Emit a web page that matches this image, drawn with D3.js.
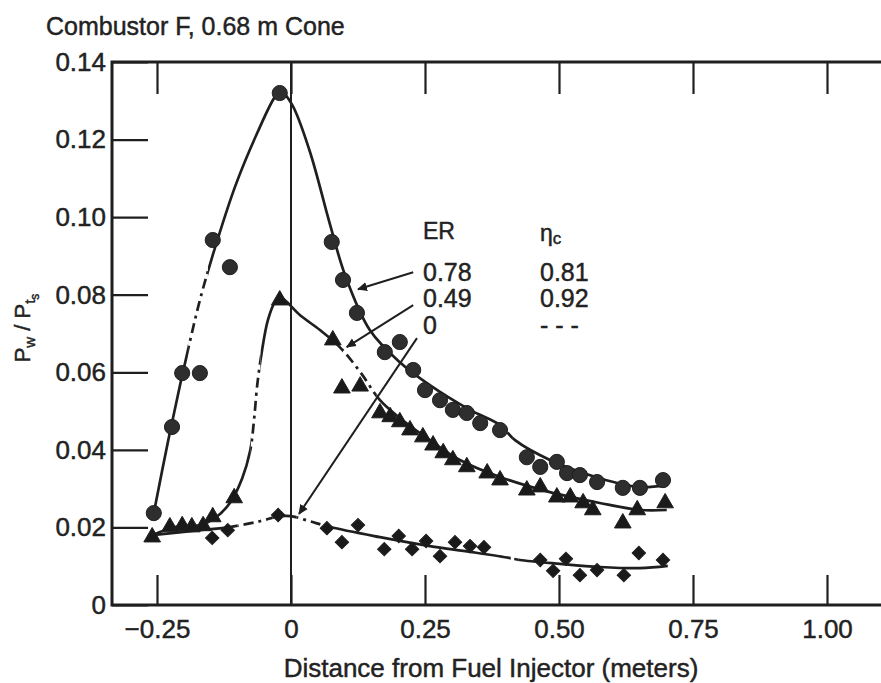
<!DOCTYPE html>
<html>
<head>
<meta charset="utf-8">
<script src="https://cdn.jsdelivr.net/npm/d3@7"></script>
<style>
body { margin: 0; background: #fff; }
text { font-family: 'Liberation Sans', Arial, sans-serif; fill: #222; stroke: #222; stroke-width: 0.45px; }
</style>
</head>
<body>
<svg id="chart"></svg>
<script>
// values
// x = distance from fuel injector (m), y = Pw/Pts

// ER 0.78 (circles)
var er78Points = [[-0.256,0.0237],[-0.222,0.0459],[-0.203,0.0598],[-0.170,0.0598],[-0.146,0.0941],
	[-0.114,0.0871],[-0.021,0.132],[0.076,0.0936],[0.097,0.0838],[0.123,0.0753],[0.175,0.0652],
	[0.203,0.0678],[0.228,0.0606],[0.250,0.0554],[0.278,0.0528],[0.302,0.0503],[0.328,0.0495],
	[0.353,0.0469],[0.390,0.0451],[0.440,0.0381],[0.465,0.0356],[0.496,0.0369],[0.515,0.0340],
	[0.539,0.0335],[0.571,0.0317],[0.619,0.0302],[0.651,0.0302],[0.694,0.0322]];
var er78Curve = [[-0.256,0.0237],[-0.229,0.0425],[-0.207,0.0567],[-0.188,0.0683],[-0.170,0.0786],
	[-0.146,0.0902],[-0.104,0.108],[-0.062,0.122],[-0.030,0.131],[-0.019,0.1325],[0.002,0.129],
	[0.035,0.117],[0.073,0.098],[0.101,0.085],[0.147,0.0709],[0.203,0.0626],[0.259,0.0567],
	[0.334,0.0503],[0.390,0.0464],[0.418,0.0425],[0.483,0.0374],[0.576,0.0327],[0.651,0.0304],[0.698,0.0309]];
var er78Breaks = [[-0.192,-0.155],[0.392,0.414]];

// ER 0.49 (triangles)
var er49Points = [[-0.259,0.0175],[-0.226,0.0201],[-0.203,0.0204],[-0.185,0.0201],[-0.164,0.0204],
	[-0.146,0.0227],[-0.106,0.0276],[-0.021,0.0786],[0.078,0.0683],[0.095,0.0559],[0.129,0.0564],
	[0.166,0.0495],[0.185,0.0485],[0.203,0.0472],[0.222,0.0451],[0.246,0.0433],[0.265,0.0412],
	[0.284,0.0392],[0.302,0.0374],[0.328,0.0356],[0.366,0.0340],[0.390,0.0322],[0.440,0.0296],
	[0.465,0.0304],[0.496,0.0278],[0.521,0.0278],[0.545,0.0263],[0.563,0.0245],[0.619,0.0211],
	[0.646,0.0245],[0.698,0.0263]];
var er49Curve = [[-0.259,0.018],[-0.216,0.0201],[-0.170,0.0206],[-0.142,0.0224],[-0.114,0.0263],
	[-0.091,0.0327],[-0.076,0.0399],[-0.069,0.0477],[-0.063,0.0567],[-0.054,0.0657],[-0.043,0.0735],
	[-0.030,0.0781],[-0.021,0.0794],[0.017,0.0747],[0.054,0.0709],[0.091,0.0665],[0.129,0.0601],
	[0.166,0.0528],[0.203,0.0482],[0.259,0.0425],[0.315,0.0374],[0.390,0.0330],[0.483,0.0291],
	[0.576,0.0263],[0.651,0.0245],[0.701,0.0245]];
var er49Breaks = [[-0.075,-0.057],[0.097,0.160]];

// ER 0 (diamonds)
var er0Points = [[-0.147,0.0173],[-0.118,0.0193],[-0.024,0.0232],[0.067,0.0198],[0.095,0.0162],
	[0.125,0.0206],[0.174,0.0144],[0.201,0.0178],[0.226,0.0144],[0.252,0.0165],[0.278,0.0126],
	[0.306,0.0162],[0.334,0.0152],[0.360,0.0149],[0.465,0.0116],[0.489,0.0088],[0.513,0.0119],
	[0.539,0.0077],[0.571,0.0090],[0.621,0.0077],[0.649,0.0134],[0.694,0.0116]];
var er0Curve = [[-0.259,0.018],[-0.170,0.0193],[-0.114,0.0201],[-0.058,0.0216],[-0.021,0.0229],
	[0.000,0.0229],[0.035,0.0216],[0.073,0.0201],[0.166,0.0175],[0.259,0.0152],[0.334,0.0137],
	[0.409,0.0121],[0.427,0.0116],[0.502,0.0106],[0.576,0.0098],[0.651,0.0095],[0.703,0.0101]];
var er0Breaks = [[-0.100,-0.035],[0.010,0.062],[0.410,0.425]];

// legend
var erLabels = ["0.78", "0.49", "0"];
var etaLabels = ["0.81", "0.92", "- - -"];

// axes
var xTicks = [-0.25, 0, 0.25, 0.5, 0.75, 1.0];
var xTickLabels = ["\u22120.25", "0", "0.25", "0.50", "0.75", "1.00"];
var yTicks = [0, 0.02, 0.04, 0.06, 0.08, 0.10, 0.12, 0.14];
var yTickLabels = ["0", "0.02", "0.04", "0.06", "0.08", "0.10", "0.12", "0.14"];

var width = 881;
var height = 683;
var frameLeft = 112;
var ink = "#1f1f1f";

var svg = d3.select("#chart")
	.attr("width", width)
	.attr("height", height);

var x = d3.scaleLinear().domain([0, 1]).range([291, 827]);
var y = d3.scaleLinear().domain([0, 0.14]).range([605, 62]);

// title
svg.append("text")
	.attr("x", 46)
	.attr("y", 35)
	.attr("font-size", 25)
	.text("Combustor F, 0.68 m Cone");

// axes, ticks pointing inward
var yAxis = d3.axisLeft(y)
	.tickValues(yTicks)
	.tickFormat(function(d, i) { return yTickLabels[i]; })
	.tickSize(-36)
	.tickPadding(6);
var gy = svg.append("g")
	.attr("transform", "translate(" + frameLeft + ",0)")
	.call(yAxis);

var xAxis = d3.axisBottom(x)
	.tickValues(xTicks)
	.tickFormat(function(d, i) { return xTickLabels[i]; })
	.tickSize(-30)
	.tickPadding(15);
var gx = svg.append("g")
	.attr("transform", "translate(0," + y(0) + ")")
	.call(xAxis);

var gTop = svg.append("g")
	.attr("transform", "translate(0," + y(0.14) + ")")
	.call(d3.axisTop(x).tickValues(xTicks).tickFormat("").tickSize(-32));

[gx, gy, gTop].forEach(function(g) {
	g.select(".domain").remove();
	g.selectAll(".tick line").attr("stroke", ink).attr("stroke-width", 2.2);
	g.selectAll(".tick text")
		.attr("font-size", 26)
		.style("font-family", "'Liberation Sans', Arial, sans-serif")
		.attr("fill", "#222");
});

// frame
svg.append("path")
	.attr("fill", "none")
	.attr("stroke", ink)
	.attr("stroke-width", 3)
	.attr("d", "M" + width + "," + y(0.14) + "H" + frameLeft + "V" + y(0) + "H" + width);

// full-height line at the injector
svg.append("line")
	.attr("x1", x(0)).attr("x2", x(0))
	.attr("y1", y(0.14)).attr("y2", y(0))
	.attr("stroke", ink)
	.attr("stroke-width", 2);

// axis titles
svg.append("text")
	.attr("x", 491)
	.attr("y", 677)
	.attr("text-anchor", "middle")
	.attr("font-size", 26)
	.text("Distance from Fuel Injector (meters)");

var ylab = svg.append("text")
	.attr("transform", "translate(30,328) rotate(-90)")
	.attr("text-anchor", "middle")
	.attr("font-size", 22);
ylab.append("tspan").text("P");
ylab.append("tspan").attr("font-size", 15).attr("dy", 5).text("w");
ylab.append("tspan").attr("dy", -5).text(" / P");
ylab.append("tspan").attr("font-size", 15).attr("dy", 5).text("t");
ylab.append("tspan").attr("font-size", 12).attr("dy", 4).text("s");

// fitted curves: solid, with dash-dot where the line is broken
var line = d3.line()
	.x(function(d) { return x(d[0]); })
	.y(function(d) { return y(d[1]); })
	.curve(d3.curveCatmullRom.alpha(0.5));

var defs = svg.append("defs");

function drawCurve(name, curve, breaks) {
	var keep = [];
	var start = 0;
	breaks.forEach(function(b) {
		keep.push([start, x(b[0])]);
		start = x(b[1]);
	});
	keep.push([start, width]);

	var solidClip = defs.append("clipPath").attr("id", name + "-solid");
	keep.forEach(function(k) {
		solidClip.append("rect").attr("x", k[0]).attr("y", 0).attr("width", k[1] - k[0]).attr("height", height);
	});
	var dashClip = defs.append("clipPath").attr("id", name + "-dash");
	breaks.forEach(function(b) {
		dashClip.append("rect").attr("x", x(b[0])).attr("y", 0).attr("width", x(b[1]) - x(b[0])).attr("height", height);
	});

	svg.append("path")
		.attr("d", line(curve))
		.attr("fill", "none")
		.attr("stroke", ink)
		.attr("stroke-width", 2.7)
		.attr("clip-path", "url(#" + name + "-solid)");
	svg.append("path")
		.attr("d", line(curve))
		.attr("fill", "none")
		.attr("stroke", ink)
		.attr("stroke-width", 2.7)
		.attr("stroke-dasharray", "10,5,3,5")
		.attr("clip-path", "url(#" + name + "-dash)");
}

drawCurve("er78", er78Curve, er78Breaks);
drawCurve("er49", er49Curve, er49Breaks);
drawCurve("er0", er0Curve, er0Breaks);

// markers
function drawPoints(points, type, size, rotate, fill) {
	var sym = d3.symbol().type(type).size(size);
	svg.append("g").selectAll("path")
		.data(points)
		.enter()
		.append("path")
		.attr("d", sym)
		.attr("fill", fill)
		.attr("stroke", ink)
		.attr("stroke-width", 1)
		.attr("transform", function(d) {
			return "translate(" + x(d[0]) + "," + y(d[1]) + ") rotate(" + rotate + ")";
		});
}

drawPoints(er0Points, d3.symbolSquare, 90, 45, "#1a1a1a");
drawPoints(er49Points, d3.symbolTriangle, 120, 0, "#1a1a1a");
drawPoints(er78Points, d3.symbolCircle, 180, 0, "#2e2e2e");

// legend and leader arrows
defs.append("marker")
	.attr("id", "head")
	.attr("viewBox", "0 0 10 10")
	.attr("refX", 9)
	.attr("refY", 5)
	.attr("markerWidth", 5)
	.attr("markerHeight", 5)
	.attr("orient", "auto")
	.append("path")
	.attr("d", "M0,0.5L10,5L0,9.5Z")
	.attr("fill", ink);

var arrows = [
	[[0.228, 0.0858], [0.125, 0.0814]],
	[[0.228, 0.0773], [0.104, 0.0665]],
	[[0.235, 0.0688], [0.015, 0.0235]]
];
arrows.forEach(function(a) {
	svg.append("line")
		.attr("x1", x(a[0][0])).attr("y1", y(a[0][1]))
		.attr("x2", x(a[1][0])).attr("y2", y(a[1][1]))
		.attr("stroke", ink)
		.attr("stroke-width", 2)
		.attr("marker-end", "url(#head)");
});

var legendX = 423;
var etaX = 540;
var rowY = [281, 307, 334];

svg.append("text").attr("x", legendX).attr("y", 239).attr("font-size", 23).text("ER");
var eta = svg.append("text").attr("x", etaX).attr("y", 241).attr("font-size", 23);
eta.append("tspan").text("\u03B7");
eta.append("tspan").attr("font-size", 17).attr("dy", 3).text("c");

erLabels.forEach(function(t, i) {
	svg.append("text").attr("x", legendX).attr("y", rowY[i]).attr("font-size", 25).text(t);
});
etaLabels.forEach(function(t, i) {
	svg.append("text").attr("x", etaX).attr("y", rowY[i]).attr("font-size", 25).text(t);
});
</script>
</body>
</html>
